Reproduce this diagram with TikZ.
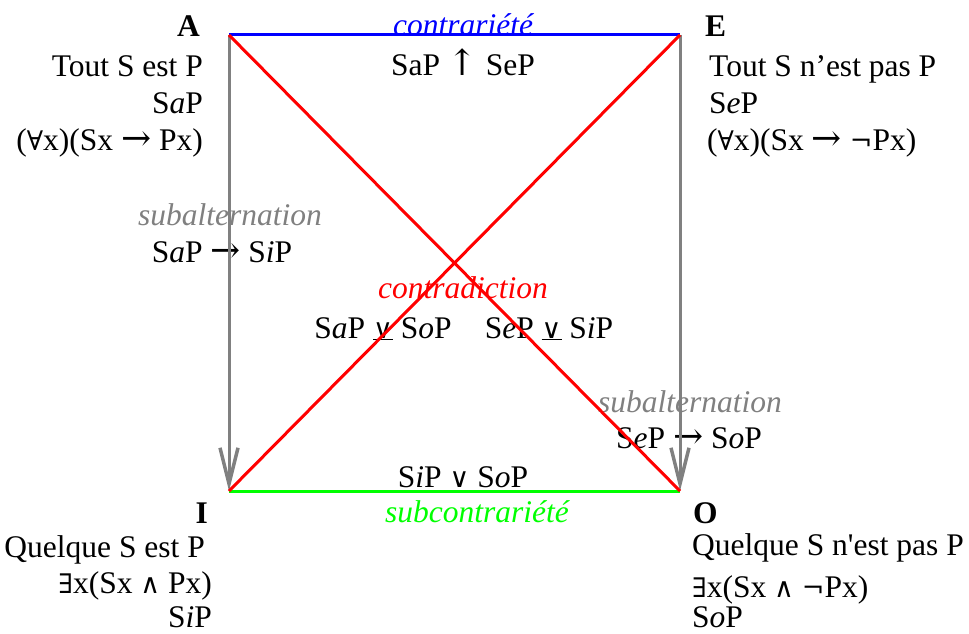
\documentclass[tikz,border=0pt]{standalone}
\usepackage{fontspec}
\setmainfont{Liberation Serif}
\newfontfamily\symf{DejaVu Serif}
\usetikzlibrary{arrows.meta}
\definecolor{lgray}{RGB}{128,128,128}
\definecolor{lgreen}{RGB}{0,255,0}
\definecolor{lblue}{RGB}{0,0,255}
\definecolor{lred}{RGB}{255,0,0}
\newcommand{\sy}[1]{{\symf\fontsize{27}{37}\selectfont #1}}
\newcommand{\ar}{{\symf\fontsize{36}{37}\selectfont →}}
\newcommand{\upar}{{\symf\fontsize{36}{37}\selectfont ↑}}
\begin{document}
\begin{tikzpicture}[x=1pt,y=-1pt,
  txt/.style={inner sep=0pt, font=\fontsize{31.5}{37}\selectfont},
  rel/.style={txt, font=\fontsize{31.5}{37}\selectfont\itshape},
  edge/.style={line width=3pt},
  subarrow/.style={edge, lgray, -{Straight Barb[length=36pt,width=18pt,line width=3.5pt]}}
]
\useasboundingbox (0,0) rectangle (969,634);
% corners
\coordinate (A) at (229,35);
\coordinate (E) at (680,35);
\coordinate (I) at (229,491);
\coordinate (O) at (680,491);
% A block
\node[txt, anchor=base east] (Alab) at (200,37) {\textbf{A}};
\node[txt, anchor=base east] (A1) at (203,77) {Tout S est P};
\node[txt, anchor=base east] (A2) at (203,113) {S\textit{a}P};
\node[txt, anchor=base east] (A3) at (203,150) {(\sy{∀}x)(Sx \ar{} Px)};
% E block
\node[txt, anchor=base west] (Elab) at (705,37) {\textbf{E}};
\node[txt, anchor=base west] (E1) at (709,77) {Tout S n’est pas P};
\node[txt, anchor=base west] (E2) at (709,113) {S\textit{e}P};
\node[txt, anchor=base west] (E3) at (707,150) {(\sy{∀}x)(Sx \ar{} \sy{¬}Px)};
% I block
\node[txt, anchor=base east] (Ilab) at (208,523) {\textbf{I}};
\node[txt, anchor=base east] (I1) at (205,557) {Quelque S est P};
\node[txt, anchor=base east] (I2) at (212,593) {\sy{∃}x(Sx \sy{∧} Px)};
\node[txt, anchor=base east] (I3) at (212,627) {S\textit{i}P};
% O block
\node[txt, anchor=base west] (Olab) at (693,523) {\textbf{O}};
\node[txt, anchor=base west] (O1) at (692,555) {Quelque S n\textquotesingle est pas P};
\node[txt, anchor=base west] (O2) at (692,597) {\sy{∃}x(Sx \sy{∧} \sy{¬}Px)};
\node[txt, anchor=base west] (O3) at (692,627) {S\textit{o}P};
% relation labels
\node[rel, lblue, anchor=base] (ctr) at (463,36) {contrariété};
\node[txt, anchor=base] (ctrf) at (463,75) {SaP \upar{} SeP};
\node[rel, lgray, anchor=base] (subL) at (230,225) {subalternation};
\node[txt, anchor=base] (subLf) at (222,262) {S\textit{a}P \ar{} S\textit{i}P};
\node[rel, lred, anchor=base] (cd) at (463,298) {contradiction};
\node[txt, anchor=base] (cd1) at (383,338) {S\textit{a}P \underline{\sy{∨}} S\textit{o}P};
\node[txt, anchor=base] (cd2) at (549,338) {S\textit{e}P \underline{\sy{∨}} S\textit{i}P};
\node[rel, lgray, anchor=base] (subR) at (690,412) {subalternation};
\node[txt, anchor=base] (subRf) at (689,448) {S\textit{e}P \ar{} S\textit{o}P};
\node[txt, anchor=base] (scf) at (463,487) {S\textit{i}P \sy{∨} S\textit{o}P};
\node[rel, lgreen, anchor=base] (sc) at (477,522) {subcontrariété};
% connectors
\draw[subarrow] (A) -- (I);
\draw[subarrow] (E) -- (O);
\draw[edge, lblue] (A) -- (E);
\draw[edge, lgreen] (I) -- (O);
\draw[edge, lred] (A) -- (O);
\draw[edge, lred] (E) -- (I);
\end{tikzpicture}
\end{document}
